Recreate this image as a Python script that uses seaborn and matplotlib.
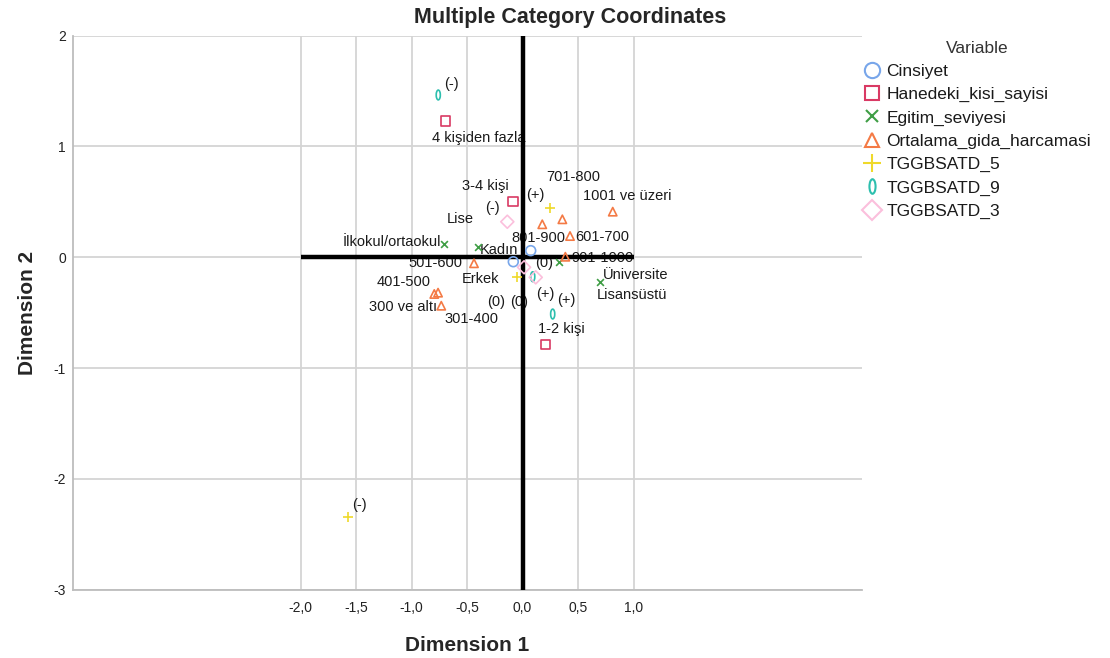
import numpy as np
import pandas as pd
import matplotlib
matplotlib.use("Agg")
import matplotlib.pyplot as plt
from matplotlib.lines import Line2D
from matplotlib.path import Path
from matplotlib.transforms import Affine2D
import seaborn as sns

# ---------------- data ----------------
cinsiyet_cat = ["Kadın", "Erkek"]
cinsiyet_x = [0.074, -0.083]
cinsiyet_y = [0.060, -0.040]

hane_cat = ["4 kişiden fazla", "3-4 kişi", "1-2 kişi"]
hane_x = [-0.692, -0.086, 0.209]
hane_y = [1.230, 0.505, -0.785]

egitim_cat = ["İlkokul/ortaokul", "Lise", "Üniversite", "Lisansüstü"]
egitim_x = [-0.707, -0.398, 0.698, 0.332]
egitim_y = [0.120, 0.096, -0.220, -0.040]

gida_cat = ["300 ve altı", "301-400", "401-500", "501-600", "601-700",
            "701-800", "801-900", "901-1000", "1001 ve üzeri"]
gida_x = [-0.761, -0.732, -0.795, -0.437, 0.428, 0.359, 0.178, 0.386, 0.813]
gida_y = [-0.319, -0.437, -0.331, -0.054, 0.192, 0.343, 0.298, 0.005, 0.412]

t5_cat = ["(-)", "(0)", "(+)"]
t5_x = [-1.575, -0.047, 0.250]
t5_y = [-2.341, -0.175, 0.442]

t9_cat = ["(-)", "(0)", "(+)"]
t9_x = [-0.759, 0.092, 0.272]
t9_y = [1.465, -0.175, -0.512]

t3_cat = ["(-)", "(0)", "(+)"]
t3_x = [-0.137, 0.014, 0.119]
t3_y = [0.321, -0.090, -0.181]

variables = ["Cinsiyet", "Hanedeki_kisi_sayisi", "Egitim_seviyesi",
             "Ortalama_gida_harcamasi", "TGGBSATD_5", "TGGBSATD_9", "TGGBSATD_3"]

x_ticks = [-2.0, -1.5, -1.0, -0.5, 0.0, 0.5, 1.0]
y_ticks = [-3, -2, -1, 0, 1, 2]

series = {
    "Cinsiyet": (cinsiyet_cat, cinsiyet_x, cinsiyet_y),
    "Hanedeki_kisi_sayisi": (hane_cat, hane_x, hane_y),
    "Egitim_seviyesi": (egitim_cat, egitim_x, egitim_y),
    "Ortalama_gida_harcamasi": (gida_cat, gida_x, gida_y),
    "TGGBSATD_5": (t5_cat, t5_x, t5_y),
    "TGGBSATD_9": (t9_cat, t9_x, t9_y),
    "TGGBSATD_3": (t3_cat, t3_x, t3_y),
}

rows = []
for v in variables:
    cats, xs, ys = series[v]
    for c, xx, yy in zip(cats, xs, ys):
        rows.append({"Variable": v, "Category": c, "Dimension 1": xx, "Dimension 2": yy})
df = pd.DataFrame(rows)

# ---------------- styles ----------------
ellipse = Path.unit_circle().transformed(Affine2D().scale(0.42, 1.0))

style = {
    "Cinsiyet": dict(marker="o", color="#78A6EA", s=50, filled=False, lsize=11.0),
    "Hanedeki_kisi_sayisi": dict(marker="s", color="#D93A64", s=44, filled=False, lsize=10.5),
    "Egitim_seviyesi": dict(marker="x", color="#3F9E45", s=24, filled=True, lsize=8.0),
    "Ortalama_gida_harcamasi": dict(marker="^", color="#F47A45", s=36, filled=False, lsize=10.0),
    "TGGBSATD_5": dict(marker="+", color="#EFD92A", s=60, filled=True, lsize=13.0),
    "TGGBSATD_9": dict(marker=ellipse, color="#2DBFAE", s=50, filled=False, lsize=10.5),
    "TGGBSATD_3": dict(marker="D", color="#FBBFDC", s=44, filled=False, lsize=10.0),
}

# label offsets in pixels (dx, dy up), alignment
label_pos = {
    ("Cinsiyet", "Kadın"): (-32, 1, "center"),
    ("Cinsiyet", "Erkek"): (-33, -17, "center"),
    ("Hanedeki_kisi_sayisi", "4 kişiden fazla"): (33, -17, "center"),
    ("Hanedeki_kisi_sayisi", "3-4 kişi"): (-28, 15, "center"),
    ("Hanedeki_kisi_sayisi", "1-2 kişi"): (16, 15, "center"),
    ("Egitim_seviyesi", "İlkokul/ortaokul"): (-3, 2, "right"),
    ("Egitim_seviyesi", "Lise"): (-18, 28, "center"),
    ("Egitim_seviyesi", "Üniversite"): (3, 7, "left"),
    ("Egitim_seviyesi", "Lisansüstü"): (37, -33, "left"),
    ("Ortalama_gida_harcamasi", "300 ve altı"): (-35, -14, "center"),
    ("Ortalama_gida_harcamasi", "301-400"): (30, -13, "center"),
    ("Ortalama_gida_harcamasi", "401-500"): (-31, 12, "center"),
    ("Ortalama_gida_harcamasi", "501-600"): (-12, 0, "right"),
    ("Ortalama_gida_harcamasi", "601-700"): (5, -1, "left"),
    ("Ortalama_gida_harcamasi", "701-800"): (11, 42, "center"),
    ("Ortalama_gida_harcamasi", "801-900"): (-4, -14, "center"),
    ("Ortalama_gida_harcamasi", "901-1000"): (6, -1, "left"),
    ("Ortalama_gida_harcamasi", "1001 ve üzeri"): (15, 16, "center"),
    ("TGGBSATD_5", "(-)"): (12, 12, "center"),
    ("TGGBSATD_5", "(0)"): (-21, -25, "center"),
    ("TGGBSATD_5", "(+)"): (-15, 13, "center"),
    ("TGGBSATD_9", "(-)"): (13, 11, "center"),
    ("TGGBSATD_9", "(0)"): (-14, -25, "center"),
    ("TGGBSATD_9", "(+)"): (14, 14, "center"),
    ("TGGBSATD_3", "(-)"): (-15, 14, "center"),
    ("TGGBSATD_3", "(0)"): (20, 4, "center"),
    ("TGGBSATD_3", "(+)"): (10, -17, "center"),
}

sns.set_style("white")
plt.rcParams["font.family"] = ["Liberation Sans", "DejaVu Sans"]

fig = plt.figure(figsize=(11.10, 6.58), dpi=100)
ax = fig.add_axes([73 / 1110, 1 - 589.7 / 658, 788.7 / 1110, 554.0 / 658])

for v in variables:
    st = style[v]
    sub = df[df["Variable"] == v]
    sns.scatterplot(data=sub, x="Dimension 1", y="Dimension 2", marker=st["marker"],
                    s=st["s"], color=st["color"], linewidth=1.2, legend=False,
                    ax=ax, zorder=5)
    coll = ax.collections[-1]
    if st["filled"]:
        coll.set_facecolor(st["color"])
    else:
        coll.set_facecolor("none")
    coll.set_edgecolor(st["color"])
    coll.set_linewidth(1.2)
    for _, r in sub.iterrows():
        dx, dy, ha = label_pos[(v, r["Category"])]
        ax.annotate(r["Category"], (r["Dimension 1"], r["Dimension 2"]),
                    xytext=(dx, dy), textcoords="offset pixels",
                    ha=ha, va="center", fontsize=10.5, color="#1a1a1a", zorder=3)

ax.set_xlim(-4.05, 3.056)
ax.set_ylim(-3, 2)

# reference axes through the origin
ax.plot([x_ticks[0], x_ticks[-1]], [0, 0], color="black", lw=3.2, zorder=4,
        solid_capstyle="butt")
ax.plot([0, 0], [y_ticks[0], y_ticks[-1]], color="black", lw=3.2, zorder=4,
        solid_capstyle="butt")

ax.set_xticks(x_ticks)
ax.set_xticklabels([f"{t:.1f}".replace(".", ",") for t in x_ticks])
ax.set_yticks(y_ticks)
ax.set_yticklabels([str(t) for t in y_ticks])
ax.tick_params(axis="both", length=0, labelsize=10, colors="#222222")
ax.tick_params(axis="x", pad=8)
ax.tick_params(axis="y", pad=5)
ax.grid(True, color="#D4D4D4", lw=1.3, zorder=0)
ax.set_axisbelow(True)

for sp in ["top", "right"]:
    ax.spines[sp].set_visible(False)
for sp in ["left", "bottom"]:
    ax.spines[sp].set_color("#BDBDBD")
    ax.spines[sp].set_linewidth(1.3)

ax.set_xlabel("Dimension 1", fontsize=15, fontweight="bold", labelpad=15)
ax.set_ylabel("Dimension 2", fontsize=15, fontweight="bold", labelpad=12)

fig.text(570 / 1110, 1 - 18 / 658, "Multiple Category Coordinates",
         ha="center", va="center", fontsize=15.5, fontweight="bold")

# legend
handles = []
for v in variables:
    st = style[v]
    handles.append(Line2D([], [], linestyle="none", marker=st["marker"],
                          markersize=st["lsize"], markeredgecolor=st["color"],
                          markerfacecolor="none", markeredgewidth=1.5))
leg = ax.legend(handles, variables, title="Variable", loc="upper left",
                bbox_to_anchor=(863 / 1110, 1 - 41 / 658),
                bbox_transform=fig.transFigure, frameon=False, fontsize=12.5,
                title_fontsize=12.5, borderpad=0, borderaxespad=0,
                handlelength=1.0, handletextpad=0.35, labelspacing=0.46)
leg.get_title().set_color("#333333")
for t in leg.get_texts():
    t.set_color("#1a1a1a")

fig.savefig("out.png", dpi=100)
